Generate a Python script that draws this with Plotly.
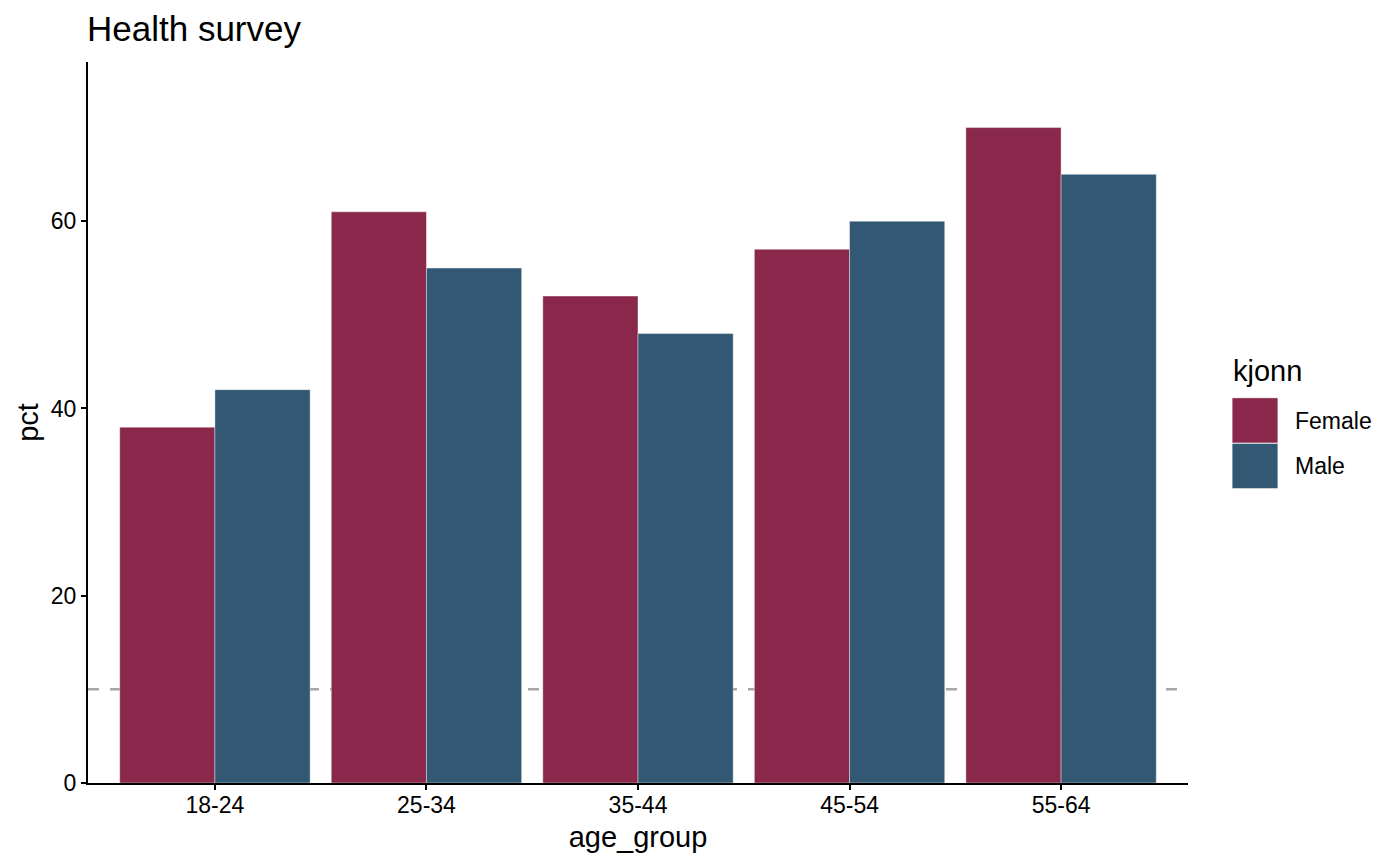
import plotly.graph_objects as go

age_groups = ["18-24", "25-34", "35-44", "45-54", "55-64"]
female_pct = [38, 61, 52, 57, 70]
male_pct = [42, 55, 48, 60, 65]
y_ticks = [0, 20, 40, 60]
ref_line = 10

FEMALE = "#8A284C"
MALE = "#325873"
FONT = "Liberation Sans, Arial, Helvetica, sans-serif"

OFF = 8  # page body margin
W, H = 1400 - OFF, 866 - OFF
L, R, T, B = 88 - OFF, 1188 - OFF, 62 - OFF, 783 - OFF


def px(x):
    return (x - OFF - L) / (R - L)


def py(y):
    return (B - (y - OFF)) / (B - T)


fig = go.Figure()
fig.add_trace(go.Bar(x=age_groups, y=female_pct, name="Female", marker_color=FEMALE,
                     marker_line=dict(color="white", width=0.4), showlegend=False))
fig.add_trace(go.Bar(x=age_groups, y=male_pct, name="Male", marker_color=MALE,
                     marker_line=dict(color="white", width=0.4), showlegend=False))

fig.add_shape(type="line", xref="paper", x0=0, x1=1, yref="y", y0=ref_line, y1=ref_line,
              line=dict(color="#A6A6A6", width=2.5, dash="11px,11px"), layer="below")

# custom legend
fig.add_annotation(xref="paper", yref="paper", x=px(1231), y=py(371), text="kjonn",
                   showarrow=False, xanchor="left", yanchor="middle",
                   font=dict(family=FONT, size=29, color="black"))
keys = [("Female", FEMALE, 397.7, 443.3), ("Male", MALE, 443.3, 488.7)]
for label, col, y0, y1 in keys:
    fig.add_shape(type="rect", xref="paper", yref="paper", x0=px(1232), x1=px(1278),
                  y0=py(y1), y1=py(y0), fillcolor=col, line=dict(color="white", width=0.8))
    fig.add_annotation(xref="paper", yref="paper", x=px(1293), y=py((y0 + y1) / 2),
                       text=label, showarrow=False, xanchor="left", yanchor="middle",
                       font=dict(family=FONT, size=23, color="black"))

fig.update_layout(
    width=W, height=H,
    margin=dict(l=L, r=W - R, t=T, b=H - B, pad=0),
    paper_bgcolor="white", plot_bgcolor="white",
    barmode="group", bargap=0.1, bargroupgap=0,
    font=dict(family=FONT, color="black"),
    title=dict(text="Health survey", x=(87 - OFF) / W, xanchor="left",
               xref="container", y=1 - (29 - OFF) / H, yanchor="middle",
               font=dict(family=FONT, size=35, color="black")),
    xaxis=dict(range=[-0.6, 4.6], showline=True, linecolor="black", linewidth=2,
               ticks="outside", ticklen=5, tickwidth=2, tickcolor="black",
               tickfont=dict(family=FONT, size=23, color="black"),
               ticklabelstandoff=-5,
               title=dict(text="age_group", font=dict(family=FONT, size=29, color="black"), standoff=10),
               showgrid=False, zeroline=False),
    yaxis=dict(range=[0, 77], showline=True, linecolor="black", linewidth=2,
               ticks="outside", ticklen=5, tickwidth=2, tickcolor="black",
               tickvals=y_ticks, tickfont=dict(family=FONT, size=23, color="black"),
               title=dict(text="pct", font=dict(family=FONT, size=29, color="black"), standoff=4),
               showgrid=False, zeroline=False),
)

fig.write_html("out.html")
